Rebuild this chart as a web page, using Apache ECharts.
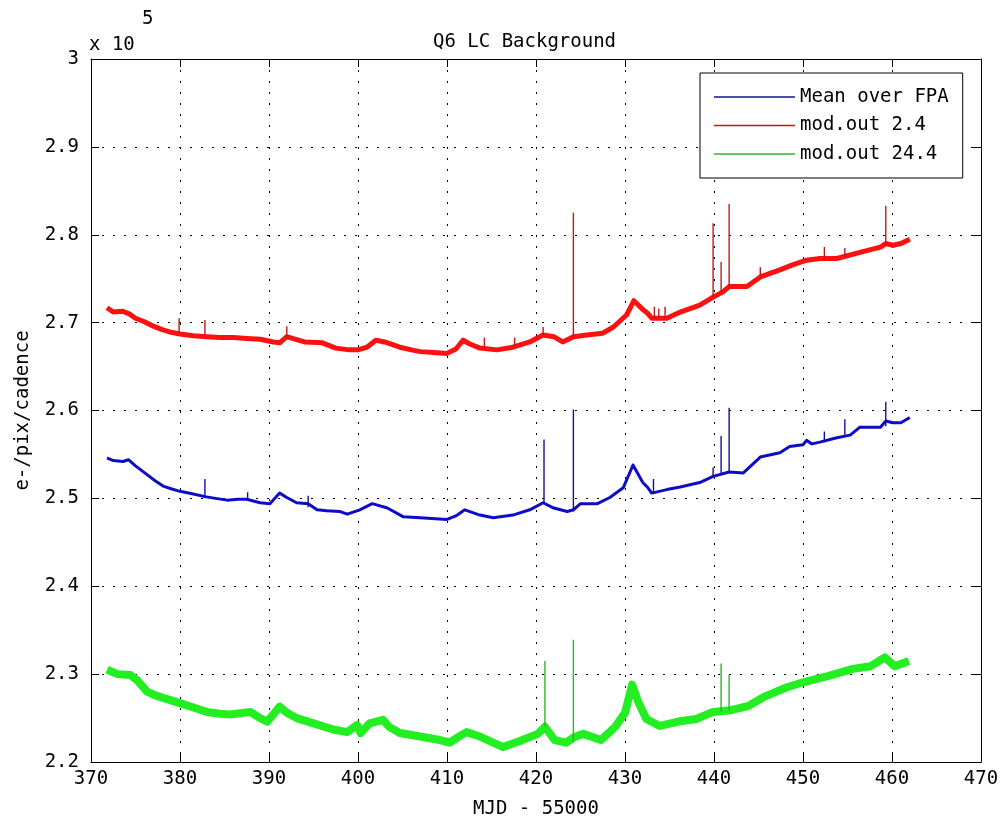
<!DOCTYPE html>
<html>
<head>
<meta charset="utf-8">
<title>Q6 LC Background</title>
<script src="https://cdn.jsdelivr.net/npm/echarts@6/dist/echarts.min.js"></script>
<style>
  html, body { margin: 0; padding: 0; background: #fff; }
  #chart { width: 1006px; height: 829px; }
</style>
</head>
<body>
<div id="chart"></div>
<script>
// Q6 LC Background — values in units of 1e5 e-/pix/cadence, time as MJD - 55000

const seriesNames = ['Mean over FPA', 'mod.out 2.4', 'mod.out 24.4'];
const seriesColors = ['#0c0cc8', '#ff1010', '#22ee22'];
const spikeColors = ['#10109a', '#c01818', '#28b828'];

const xTicks = { min: 370, max: 470, step: 10 };
const yTicks = { min: 2.2, max: 3.0, step: 0.1 };

// ---- main curves [t, value] ----
const fpaMean = [
  [371.8, 2.546], [372.5, 2.543], [373.6, 2.542], [374.2, 2.544], [375, 2.537],
  [376.3, 2.527], [377.2, 2.520], [378.1, 2.514], [379, 2.511], [380, 2.508],
  [381.5, 2.505], [382.8, 2.502], [384, 2.500], [385.3, 2.498], [386.5, 2.499],
  [387.5, 2.499], [389, 2.495], [390.1, 2.494], [391.2, 2.506], [392, 2.501],
  [393.1, 2.495], [394.4, 2.494], [395.4, 2.487], [396.5, 2.486], [398, 2.485],
  [398.8, 2.482], [400.2, 2.487], [401.6, 2.494], [403.3, 2.489], [405.1, 2.479],
  [407, 2.478], [410, 2.476], [411, 2.480], [412, 2.487], [413.7, 2.481],
  [415.2, 2.478], [417.4, 2.481], [419.3, 2.487], [420.8, 2.495], [422, 2.489],
  [423.5, 2.485], [424.2, 2.487], [425, 2.494], [426.9, 2.494], [428.3, 2.501],
  [429.8, 2.512], [430.9, 2.538], [432, 2.518], [432.5, 2.513], [433, 2.506],
  [434.7, 2.510], [436.2, 2.513], [438.4, 2.518], [439.9, 2.525], [441.7, 2.530],
  [443.3, 2.529], [445.2, 2.547], [447.4, 2.552], [448.5, 2.559], [450, 2.561],
  [450.4, 2.566], [451, 2.562], [451.9, 2.564], [453.8, 2.569], [455.3, 2.572],
  [456.4, 2.581], [458.7, 2.581], [459.3, 2.588], [460.1, 2.586], [461, 2.586],
  [462, 2.592]
];

const modOut24 = [
  [371.8, 2.717], [372.5, 2.712], [373.5, 2.713], [374.3, 2.710], [375, 2.705],
  [376, 2.701], [377, 2.696], [378, 2.692], [379, 2.689], [380, 2.687],
  [381.5, 2.685], [383, 2.684], [384.5, 2.683], [386, 2.683], [387.5, 2.682],
  [389, 2.681], [390.5, 2.678], [391.2, 2.677], [392, 2.684], [393, 2.681],
  [394, 2.678], [396, 2.677], [397.5, 2.671], [399, 2.669], [400, 2.669],
  [401, 2.672], [402, 2.680], [403, 2.678], [404.7, 2.672], [406, 2.669],
  [407, 2.667], [408.5, 2.666], [410, 2.665], [411, 2.670], [411.8, 2.680],
  [412.5, 2.676], [413.7, 2.671], [415.6, 2.669], [417.4, 2.672], [419.3, 2.678],
  [420.8, 2.686], [422, 2.684], [423, 2.678], [424.2, 2.684], [425.7, 2.686],
  [427.5, 2.688], [428.7, 2.695], [430.2, 2.709], [431, 2.725], [432, 2.715],
  [432.5, 2.711], [433, 2.705], [434.7, 2.705], [436.2, 2.712], [438.4, 2.720],
  [439.9, 2.729], [441, 2.735], [441.7, 2.741], [443.7, 2.741], [445.2, 2.752],
  [447.4, 2.760], [448.9, 2.766], [450.4, 2.771], [451.9, 2.773], [453.8, 2.773],
  [456.4, 2.780], [458.7, 2.786], [459.3, 2.790], [460.1, 2.788], [461, 2.790],
  [462, 2.795]
];

const modOut244 = [
  [371.8, 2.305], [373, 2.300], [374.4, 2.299], [375.2, 2.293], [376.3, 2.280],
  [377.2, 2.276], [378.1, 2.273], [380, 2.267], [381.5, 2.262], [383, 2.257],
  [384.5, 2.255], [385.6, 2.254], [387.9, 2.257], [389, 2.250], [389.8, 2.246],
  [391.2, 2.263], [392, 2.256], [393.1, 2.250], [395, 2.244], [397.2, 2.237],
  [398.8, 2.234], [399.9, 2.242], [400.3, 2.233], [401.3, 2.244], [402.8, 2.248],
  [403.5, 2.240], [404.7, 2.233], [407, 2.229], [409.2, 2.225], [410.3, 2.222],
  [411.5, 2.230], [412.2, 2.234], [413.7, 2.229], [416.3, 2.217], [418.2, 2.224],
  [420.2, 2.232], [421, 2.240], [422.1, 2.225], [423.4, 2.222], [424.2, 2.228],
  [425.3, 2.232], [427.3, 2.225], [428.9, 2.240], [430, 2.256], [430.8, 2.288],
  [431.5, 2.268], [432.4, 2.249], [433.9, 2.241], [436, 2.246], [438, 2.249],
  [439.9, 2.257], [441.9, 2.259], [443.9, 2.264], [445.8, 2.275], [448.2, 2.285],
  [450.1, 2.291], [452.9, 2.298], [455.6, 2.306], [457.6, 2.309], [459.2, 2.319],
  [460.3, 2.309], [461.9, 2.315]
];

// ---- narrow spikes [t, base, peak] ----
const fpaSpikes = [
  [382.8, 2.502, 2.522], [387.6, 2.499, 2.507], [394.4, 2.490, 2.503],
  [420.9, 2.495, 2.567], [424.2, 2.485, 2.601], [433.2, 2.506, 2.522],
  [439.9, 2.525, 2.535], [440.8, 2.528, 2.571], [441.7, 2.530, 2.603],
  [452.4, 2.564, 2.576], [454.7, 2.570, 2.590], [459.3, 2.582, 2.610]
];

const mod24Spikes = [
  [379.9, 2.688, 2.705], [382.8, 2.684, 2.703], [392.0, 2.682, 2.696],
  [414.2, 2.670, 2.683], [417.6, 2.672, 2.683], [420.8, 2.686, 2.695],
  [424.2, 2.684, 2.825], [433.3, 2.705, 2.718], [433.8, 2.705, 2.716],
  [434.5, 2.705, 2.718], [439.9, 2.729, 2.813], [440.8, 2.734, 2.769],
  [441.7, 2.741, 2.835], [445.2, 2.752, 2.763], [452.4, 2.773, 2.786],
  [454.7, 2.775, 2.785], [459.3, 2.788, 2.833]
];

const mod244Spikes = [
  [421.0, 2.240, 2.315], [424.2, 2.222, 2.339],
  [440.8, 2.257, 2.312], [441.7, 2.259, 2.299]
];

const FONT = 'DejaVu Sans Mono';
const chart = echarts.init(document.getElementById('chart'));

function spikeData(list) {
  const out = [];
  for (const [t, b, p] of list) {
    out.push([t, b], [t, p], [t, '-']);
  }
  return out;
}

function baseSeries(name, data, color, width) {
  return {
    name, type: 'line', data, symbol: 'none', animation: false,
    lineStyle: { color, width, join: 'round' }, itemStyle: { color }
  };
}

function spikeSeries(name, list, color) {
  return {
    name, type: 'line', data: spikeData(list), symbol: 'none', animation: false,
    connectNulls: false,
    lineStyle: { color, width: 1.4 }, itemStyle: { color }
  };
}

const axisLine = { show: true, onZero: false, lineStyle: { color: '#000', width: 1 } };
const axisTick = { show: true, inside: true, length: 8, lineStyle: { color: '#000', width: 1 } };
const gridDots = { show: true, lineStyle: { color: '#000', width: 1, type: [2, 9] } };
const labelStyle = { color: '#000', fontFamily: FONT, fontSize: 19 };

chart.setOption({
  backgroundColor: '#fff',
  animation: false,
  title: {
    text: 'Q6 LC Background',
    left: 428, top: 28,
    textStyle: { fontFamily: FONT, fontSize: 19, fontWeight: 'normal', color: '#000' }
  },
  graphic: [
    { type: 'text', left: 89, top: 36, style: { text: 'x 10', font: '19px "DejaVu Sans Mono"', fill: '#000' } },
    { type: 'text', left: 142, top: 10, style: { text: '5', font: '19px "DejaVu Sans Mono"', fill: '#000' } }
  ],
  grid: { left: 91, right: 25, top: 59, bottom: 67, containLabel: false },
  legend: {
    data: seriesNames.map((name, i) => ({ name, itemStyle: { color: spikeColors[i] } })),
    orient: 'vertical',
    left: 700, top: 73,
    padding: [13, 14, 13, 14],
    icon: 'rect',
    itemWidth: 81, itemHeight: 1.5, itemGap: 6.5,
    borderColor: '#000', borderWidth: 1, borderRadius: 0,
    backgroundColor: '#fff',
    textStyle: { fontFamily: FONT, fontSize: 19, lineHeight: 22, color: '#000' },
    selectedMode: false
  },
  xAxis: [
    {
      type: 'value', min: xTicks.min, max: xTicks.max, interval: xTicks.step,
      position: 'bottom',
      name: 'MJD - 55000', nameLocation: 'middle', nameGap: 38,
      nameTextStyle: labelStyle,
      axisLine, axisTick,
      axisLabel: { ...labelStyle, margin: 8 },
      splitLine: gridDots
    },
    {
      type: 'value', min: xTicks.min, max: xTicks.max, interval: xTicks.step,
      position: 'top',
      axisLine, axisTick, axisLabel: { show: false }, splitLine: { show: false }
    }
  ],
  yAxis: [
    {
      type: 'value', min: yTicks.min, max: yTicks.max, interval: yTicks.step,
      position: 'left',
      name: 'e-/pix/cadence', nameLocation: 'middle', nameGap: 58,
      nameTextStyle: labelStyle,
      axisLine, axisTick,
      axisLabel: { ...labelStyle, margin: 12, formatter: (v) => String(+v.toFixed(1)) },
      splitLine: gridDots
    },
    {
      type: 'value', min: yTicks.min, max: yTicks.max, interval: yTicks.step,
      position: 'right',
      axisLine, axisTick, axisLabel: { show: false }, splitLine: { show: false }
    }
  ],
  series: [
    baseSeries(seriesNames[0], fpaMean, seriesColors[0], 3),
    baseSeries(seriesNames[1], modOut24, seriesColors[1], 5),
    baseSeries(seriesNames[2], modOut244, seriesColors[2], 8),
    spikeSeries(seriesNames[0], fpaSpikes, spikeColors[0]),
    spikeSeries(seriesNames[1], mod24Spikes, spikeColors[1]),
    spikeSeries(seriesNames[2], mod244Spikes, spikeColors[2])
  ]
});

window.addEventListener('resize', () => chart.resize());
</script>
</body>
</html>
